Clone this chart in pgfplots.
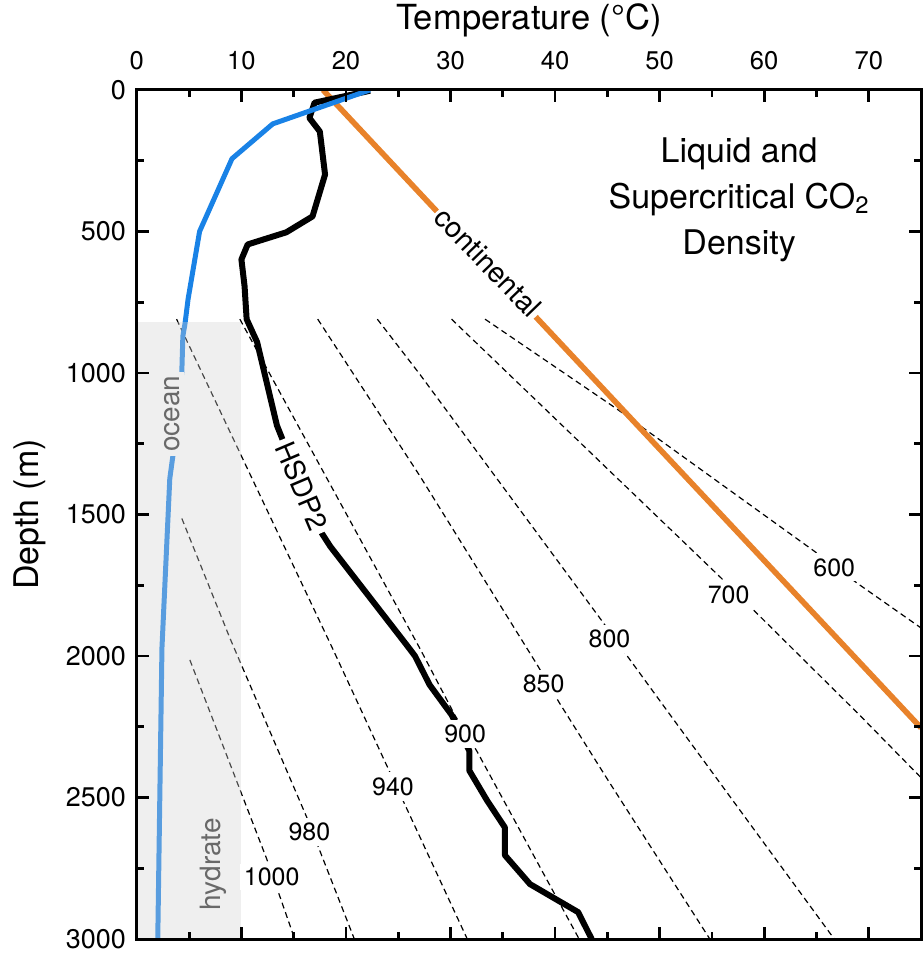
\documentclass[border=0pt]{standalone}
\usepackage{fontspec}
\setmainfont{TeX Gyre Heros}
\usepackage{pgfplots}
\pgfplotsset{compat=1.18}
\definecolor{oceanblue}{RGB}{25,130,230}
\definecolor{contorange}{RGB}{232,130,42}
\definecolor{hydgray}{RGB}{210,210,210}
\definecolor{hydbg}{RGB}{239,239,239}
\definecolor{labgray}{RGB}{105,105,105}
\pgfplotsset{dens/.style={black, line width=0.6pt, dash pattern=on 3pt off 2pt}}
\begin{document}
\begin{tikzpicture}
\begin{axis}[
  scale only axis, width=392.5pt, height=425pt,
  xmin=0, xmax=75, ymin=0, ymax=3000, y dir=reverse,
  xtick={0,10,...,70}, minor x tick num=1,
  ytick={0,500,...,3000}, minor y tick num=1,
  xtick pos=both, ytick pos=both,
  xticklabel pos=upper, yticklabel pos=left,
  tick align=inside,
  major tick length=6pt, minor tick length=3.5pt,
  tick style={black, line width=1.4pt},
  axis line style={line width=1.5pt},
  /pgf/number format/assume math mode=true,
  /pgf/number format/set thousands separator={},
  xticklabel style={font=\fontsize{12.8}{14}\selectfont, yshift=6.5pt},
  yticklabel style={font=\fontsize{13.5}{15}\selectfont, xshift=-2pt},
  xlabel={Temperature (°C)},
  ylabel={Depth (m)},
  xlabel style={font=\fontsize{17.3}{19}\selectfont, at={(axis description cs:0.5,1.082)}, anchor=center},
  ylabel style={font=\fontsize{17}{19}\selectfont, at={(axis description cs:-0.136,0.5)}, anchor=center},
  axis on top,
]
% density contours
\addplot[dens] coordinates {(5.07,2014) (12.43,2718) (15.1,3000)};
\addplot[dens] coordinates {(4.3,1514) (8.9,1937) (16.25,2570) (20.8,3000)};
\addplot[dens] coordinates {(3.8,810) (18.7,1972) (23.9,2387) (31.6,3000)};
\addplot[dens] coordinates {(9.85,810) (27.05,1972) (30.4,2208) (32.5,2335) (42.3,3000)};
\addplot[dens] coordinates {(17.3,810) (27.05,1363) (38.3,2032) (40.4,2165) (45.2,2447) (54.8,3000)};
\addplot[dens] coordinates {(23.0,810) (27.05,1004) (44.5,1877) (46.9,2000) (51.2,2218) (66.7,3000)};
\addplot[dens] coordinates {(30.1,810) (55.7,1718) (59.1,1842) (69.1,2208) (75,2430)};
\addplot[dens] coordinates {(33.3,810) (45.9,1127) (64.8,1630) (68.9,1743) (75,1901)};
% continental geotherm
\addplot[contorange, line width=2.8pt] coordinates {(17.8,0) (75,2254)};
% HSDP2
\addplot[black, line width=3pt, line join=round] coordinates {
(22.3,3) (17.0,45) (16.5,99) (17.5,147) (18.0,299) (16.8,447) (14.3,503)
(10.6,546) (10.0,599) (10.3,693) (10.5,810) (11.5,891) (13.4,1186) (13.9,1232)
(17.7,1567) (18.5,1613) (25.8,1961) (26.6,2000) (28.0,2102) (30.1,2208)
(31.8,2335) (31.8,2405) (33.5,2511) (35.2,2606) (35.2,2704) (37.6,2806)
(42.2,2905) (43.5,3000)};
% ocean
\addplot[oceanblue, line width=2.5pt, line join=round] coordinates {
(22.3,0) (13.0,120) (9.1,243) (6.0,500) (4.9,739) (4.6,827) (4.4,870)
(4.3,997) (3.45,1292) (3.15,1373) (2.4,1972) (2.0,3000)};
% hydrate zone
\addplot[draw=none, fill=hydgray, fill opacity=0.35] coordinates {(0,820) (10,820) (10,3000) (0,3000)} -- cycle;
% labels
\node[font=\fontsize{12.5}{14}\selectfont, fill=white, inner sep=2pt] at (axis cs:12.9,2782) {1000};
\node[font=\fontsize{12.5}{14}\selectfont, fill=white, inner sep=2.5pt] at (axis cs:16.5,2623) {980};
\node[font=\fontsize{12.5}{14}\selectfont, fill=white, inner sep=2.5pt] at (axis cs:24.5,2461) {940};
\node[font=\fontsize{12.5}{14}\selectfont, fill=white, inner sep=2.5pt] at (axis cs:31.4,2275) {900};
\node[font=\fontsize{12.5}{14}\selectfont, fill=white, inner sep=2.5pt] at (axis cs:38.9,2099) {850};
\node[font=\fontsize{12.5}{14}\selectfont, fill=white, inner sep=2.5pt] at (axis cs:45.2,1940) {800};
\node[font=\fontsize{12.5}{14}\selectfont, fill=white, inner sep=2.5pt] at (axis cs:56.6,1785) {700};
\node[font=\fontsize{12.5}{14}\selectfont, fill=white, inner sep=2.5pt] at (axis cs:66.7,1687) {600};
\node[font=\fontsize{14.3}{16}\selectfont, fill=white, inner sep=1.5pt, rotate=-46] at (axis cs:33.6,609) {continental};
\node[font=\fontsize{14}{16}\selectfont, fill=white, inner sep=2pt, rotate=-67] at (axis cs:15.8,1400) {HSDP2};
\node[font=\fontsize{14}{16}\selectfont, text=labgray, fill=hydbg, inner sep=2pt, rotate=90] at (axis cs:3.35,1144) {ocean};
\node[font=\fontsize{14}{16}\selectfont, text=labgray, inner sep=1pt, rotate=90] at (axis cs:7.27,2736) {hydrate};
\node[align=center, font=\fontsize{17}{23}\selectfont] at (axis cs:57.6,387) {Liquid and\\Supercritical CO\textsubscript{2}\\Density};
\coordinate (bl) at (axis cs:0,3000);
\coordinate (tr) at (axis cs:75,0);
\end{axis}
\pgfresetboundingbox
\path ([shift={(-68.5pt,-7.5pt)}]bl) rectangle ([shift={(0.5pt,45pt)}]tr);
\end{tikzpicture}
\end{document}
